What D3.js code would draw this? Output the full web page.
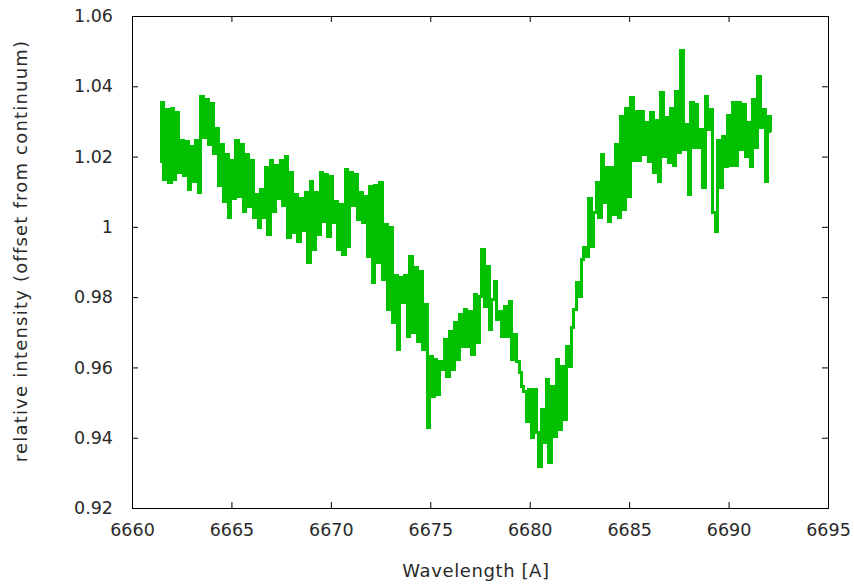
<!DOCTYPE html>
<html>
<head>
<meta charset="utf-8">
<script src="https://cdn.jsdelivr.net/npm/d3@7"></script>
<style>
  body { margin: 0; background: #fff; }
  text { font-family: "DejaVu Sans", sans-serif; fill: #2a2a2a; }
</style>
</head>
<body>
<div id="chart"></div>
<script>

// spectrum sampled on a regular wavelength grid
var lambdaStart = 6661.4
var lambdaStep = 0.125

var intensity = [
  1.0185,1.0353,1.0134,1.0333,1.0125,1.0338,1.0134,1.0324,1.0156,1.0247,
  1.0145,1.0242,1.0105,1.0230,1.0128,1.0247,1.0099,1.0370,1.0253,1.0361,
  1.0233,1.0350,1.0210,1.0281,1.0117,1.0233,1.0071,1.0205,1.0026,1.0190,
  1.0082,1.0247,1.0085,1.0233,1.0043,1.0205,1.0057,1.0190,1.0028,1.0091,
  0.9997,1.0105,1.0026,1.0168,0.9977,1.0190,1.0043,1.0176,1.0082,1.0190,
  1.0062,1.0199,0.9969,1.0156,0.9983,1.0091,0.9957,1.0082,0.9991,1.0099,
  0.9900,1.0128,0.9935,1.0097,0.9977,1.0154,1.0014,1.0148,0.9972,1.0142,
  1.0011,1.0071,0.9935,1.0065,0.9920,1.0162,0.9943,1.0156,1.0062,1.0148,
  1.0020,1.0097,1.0011,1.0085,0.9915,1.0114,0.9841,1.0119,0.9898,1.0125,
  0.9849,1.0006,0.9764,0.9997,0.9727,0.9863,0.9650,0.9855,0.9784,0.9863,
  0.9687,0.9915,0.9698,0.9883,0.9673,0.9872,0.9650,0.9778,0.9428,0.9630,
  0.9516,0.9622,0.9522,0.9616,0.9593,0.9679,0.9573,0.9701,0.9593,0.9727,
  0.9622,0.9750,0.9659,0.9764,0.9659,0.9758,0.9636,0.9807,0.9670,0.9801,
  0.9935,0.9772,0.9886,0.9707,0.9792,0.9844,0.9735,0.9758,0.9687,0.9772,
  0.9687,0.9787,0.9622,0.9693,0.9616,0.9585,0.9545,0.9531,0.9445,0.9536,
  0.9400,0.9536,0.9414,0.9317,0.9480,0.9386,0.9565,0.9329,0.9545,0.9403,
  0.9622,0.9423,0.9602,0.9451,0.9659,0.9602,0.9713,0.9764,0.9841,0.9801,
  0.9906,0.9940,0.9915,1.0082,0.9943,1.0040,1.0125,1.0028,1.0205,1.0068,
  1.0168,1.0014,1.0168,1.0034,1.0233,1.0028,1.0313,1.0048,1.0338,1.0085,
  1.0367,1.0190,1.0327,1.0190,1.0327,1.0205,1.0296,1.0185,1.0324,1.0156,
  1.0304,1.0128,1.0381,1.0199,1.0310,1.0182,1.0338,1.0176,1.0384,1.0213,
  1.0503,1.0219,1.0290,1.0091,1.0355,1.0227,1.0347,1.0225,1.0276,1.0111,
  1.0370,1.0276,1.0333,1.0040,0.9986,1.0247,1.0111,1.0256,1.0171,1.0318,
  1.0176,1.0355,1.0176,1.0355,1.0219,1.0347,1.0199,1.0296,1.0171,1.0361,
  1.0225,1.0427,1.0284,1.0333,1.0128,1.0313,1.0270
]

var xTicks = [6660, 6665, 6670, 6675, 6680, 6685, 6690, 6695]
var yTicks = [0.92, 0.94, 0.96, 0.98, 1.00, 1.02, 1.04, 1.06]

var data = intensity.map(function(v, i){
  return {wl: lambdaStart + i * lambdaStep, val: v}
})

var totalWidth = 854, totalHeight = 586
var margin = {left: 132, right: 26, top: 16, bottom: 78}
var width = totalWidth - margin.left - margin.right
var height = totalHeight - margin.top - margin.bottom

var svg = d3.select('#chart').append('svg')
  .attr('width', totalWidth)
  .attr('height', totalHeight)

var g = svg.append('g')
  .attr('transform', 'translate(' + margin.left + ',' + margin.top + ')')

var x = d3.scaleLinear().domain([6660, 6695]).range([0, width])
var y = d3.scaleLinear().domain([0.92, 1.06]).range([height, 0])

// ticks point inward on every side, like the gnuplot border
var tickLen = 6

var xAxis = d3.axisBottom(x).tickValues(xTicks).tickSizeInner(-tickLen).tickSizeOuter(0)
  .tickPadding(16).tickFormat(d3.format('d'))
var yAxis = d3.axisLeft(y).tickValues(yTicks).tickSizeInner(-tickLen).tickSizeOuter(0)
  .tickPadding(19).tickFormat(function(d){ return +d.toFixed(2) + '' })

// thick steps give the blocky look of the original trace
var line = d3.line()
  .curve(d3.curveStep)
  .x(function(d){ return x(d.wl) })
  .y(function(d){ return y(d.val) })

g.append('path')
  .datum(data)
  .attr('d', line)
  .attr('fill', 'none')
  .attr('stroke', '#00c000')
  .attr('stroke-width', 3)
  .attr('stroke-linejoin', 'miter')
  .attr('shape-rendering', 'crispEdges')

var xg = g.append('g').attr('transform', 'translate(0,' + height + ')').call(xAxis)
var yg = g.append('g').call(yAxis)

g.append('g')
  .call(d3.axisTop(x).tickValues(xTicks).tickSizeInner(-tickLen).tickSizeOuter(0).tickFormat(''))
g.append('g').attr('transform', 'translate(' + width + ',0)')
  .call(d3.axisRight(y).tickValues(yTicks).tickSizeInner(-tickLen).tickSizeOuter(0).tickFormat(''))

g.selectAll('.domain').remove()
g.selectAll('.tick line').attr('stroke', '#000')
g.selectAll('.tick text')
  .style('font-family', '"DejaVu Sans", sans-serif')
  .style('font-size', '17.5px')
  .attr('fill', '#2a2a2a')

g.append('rect')
  .attr('width', width)
  .attr('height', height)
  .attr('fill', 'none')
  .attr('stroke', '#000')
  .attr('stroke-width', 1)
  .attr('shape-rendering', 'crispEdges')

svg.append('text')
  .attr('x', 476)
  .attr('y', 577)
  .attr('text-anchor', 'middle')
  .style('font-size', '18px')
  .style('letter-spacing', '0.6px')
  .text('Wavelength [A]')

svg.append('text')
  .attr('transform', 'translate(27,251) rotate(-90)')
  .attr('text-anchor', 'middle')
  .style('font-size', '18px')
  .style('letter-spacing', '1.2px')
  .text('relative intensity (offset from continuum)')

</script>
</body>
</html>
